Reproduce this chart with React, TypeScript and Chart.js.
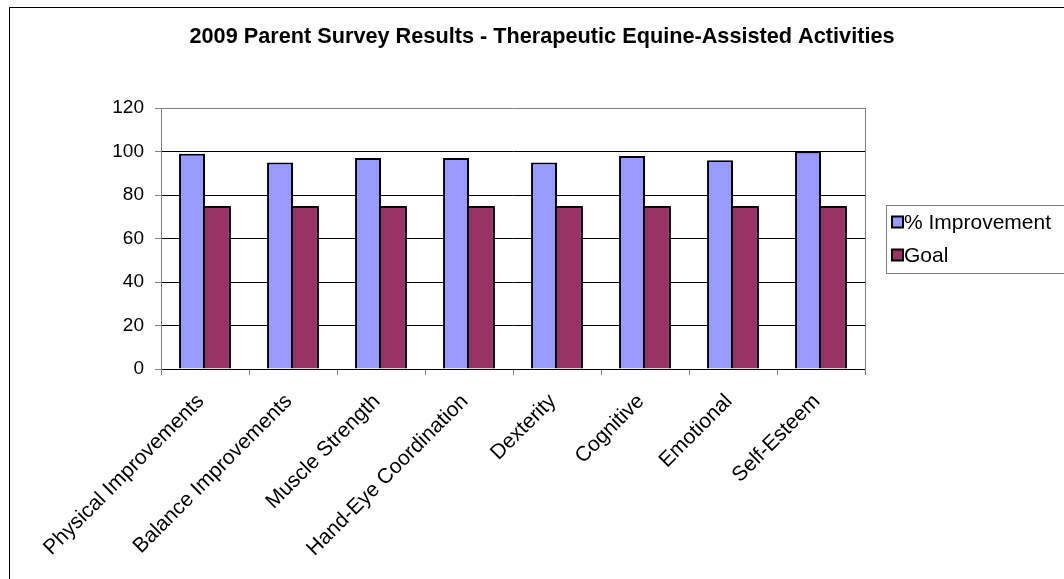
import { useEffect, useRef } from 'react';
import { Chart, registerables } from 'chart.js';

Chart.register(...registerables);

const chartTitle = '2009 Parent Survey Results - Therapeutic Equine-Assisted Activities';
const categories = [
  'Physical Improvements',
  'Balance Improvements',
  'Muscle Strength',
  'Hand-Eye Coordination',
  'Dexterity',
  'Cognitive',
  'Emotional',
  'Self-Esteem',
];
const improvementValues = [99, 95, 97, 97, 95, 98, 96, 100];
const goalValues = [75, 75, 75, 75, 75, 75, 75, 75];
const seriesNames = ['% Improvement', 'Goal'];
const seriesColors = ['#9999FF', '#993366'];
const yTickValues = [0, 20, 40, 60, 80, 100, 120];

const FONT = '"Liberation Sans", Arial, sans-serif';

const frameLegendPlugin = {
  id: 'frameLegend',
  afterDraw(chart: any) {
    const ctx = chart.ctx;
    ctx.save();
    ctx.strokeStyle = '#000';
    ctx.lineWidth = 1;
    ctx.strokeRect(9.5, 7.5, 1100, 620);
    const lx = 886.5, ly = 205.5, lw = 200, lh = 68;
    ctx.strokeStyle = '#808080';
    ctx.strokeRect(lx, ly, lw, lh);
    chart.data.datasets.forEach((ds: any, i: number) => {
      const cy = 222 + i * 33;
      ctx.fillStyle = ds.backgroundColor;
      ctx.fillRect(892, cy - 5.5, 11, 11);
      ctx.strokeStyle = '#000';
      ctx.lineWidth = 2;
      ctx.strokeRect(892, cy - 5.5, 11, 11);
      ctx.fillStyle = '#000';
      ctx.font = '21px ' + FONT;
      ctx.textBaseline = 'middle';
      ctx.textAlign = 'left';
      ctx.fillText(ds.label, 904, cy + 1);
    });
    ctx.restore();
  },
};

export default function App() {
  const ref = useRef<HTMLCanvasElement | null>(null);
  useEffect(() => {
    if (!ref.current) return;
    const chart = new Chart(ref.current, {
      type: 'bar',
      data: {
        labels: categories,
        datasets: [
          {
            label: seriesNames[0],
            data: improvementValues,
            backgroundColor: seriesColors[0],
            borderColor: '#000',
            borderWidth: { top: 2, left: 2, right: 2, bottom: 0 },
            borderSkipped: 'start',
          },
          {
            label: seriesNames[1],
            data: goalValues,
            backgroundColor: seriesColors[1],
            borderColor: '#000',
            borderWidth: { top: 2, left: 0, right: 2, bottom: 0 },
            borderSkipped: 'start',
          },
        ],
      },
      options: {
        animation: false,
        responsive: true,
        maintainAspectRatio: false,
        layout: { padding: { left: 20, right: 0, top: 0, bottom: 0 } },
        datasets: { bar: { categoryPercentage: 0.59, barPercentage: 1 } },
        plugins: {
          legend: { display: false },
          tooltip: { enabled: false },
          title: {
            display: true,
            text: chartTitle,
            color: '#000',
            font: { family: FONT, size: 21.7, weight: 'bold' },
            padding: { top: 24, bottom: 58 },
          },
        },
        scales: {
          x: {
            grid: {
              offset: true,
              drawOnChartArea: false,
              drawTicks: true,
              tickLength: 6,
              tickColor: '#808080',
            },
            border: { color: '#000', width: 1 },
            ticks: {
              color: '#000',
              font: { family: FONT, size: 21 },
              maxRotation: 45,
              minRotation: 45,
              autoSkip: false,
              padding: 10,
              callback: (_v: any, i: number) => categories[i] + ' ',
            },
            afterFit: (s: any) => { s.height = 210; },
          },
          y: {
            min: 0,
            max: 120,
            afterBuildTicks: (s: any) => { s.ticks = yTickValues.map((v) => ({ value: v })); },
            grid: {
              color: (c: any) => (c.tick && c.tick.value === 120 ? '#808080' : '#000'),
              tickColor: '#808080',
              tickLength: 6,
              lineWidth: 1,
            },
            border: { color: '#808080', width: 1 },
            ticks: {
              color: '#000',
              font: { family: FONT, size: 19 },
              padding: 11,
            },
            afterFit: (s: any) => { s.width = 141; },
          },
          y2: {
            type: 'linear',
            position: 'right',
            display: true,
            grid: { drawOnChartArea: false, drawTicks: false },
            ticks: { display: false },
            border: { color: '#808080', width: 1 },
            afterFit: (s: any) => { s.width = 199; },
          },
        },
      } as any,
      plugins: [frameLegendPlugin],
    });
    return () => chart.destroy();
  }, []);
  return (
    <div style={{ position: 'fixed', left: 0, top: 0, width: 1064, height: 579, background: '#fff' }}>
      <canvas ref={ref} />
    </div>
  );
}
